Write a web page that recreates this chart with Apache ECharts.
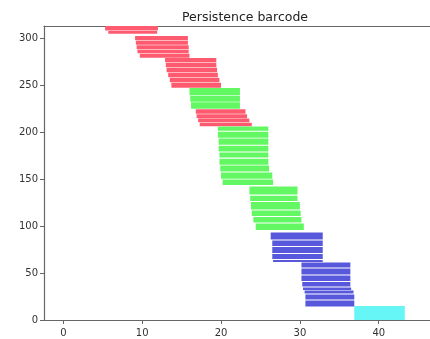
<!DOCTYPE html>
<html>
<head>
<meta charset="utf-8">
<script src="https://cdn.jsdelivr.net/npm/echarts@6/dist/echarts.min.js"></script>
<style>
html,body{margin:0;padding:0;background:#fff;}
#chart{width:430px;height:339px;}
</style>
</head>
<body>
<div id="chart"></div>
<script>
// Each entry is one visible stripe of bars (bar index range low..high)
var stripeLow  = [308.3, 304.8,
  297.9, 293.1, 288.3, 284.0, 279.3,
  274.5, 269.1, 263.8, 258.5, 253.2, 247.3,
  239.4, 232.4, 225.0,
  219.7, 214.9, 210.6, 206.4,
  201.6, 194.1, 186.7, 179.3, 172.9, 165.4, 158.0, 150.5, 143.6,
  133.5, 126.6, 117.6, 110.6, 103.7, 95.7,
  85.6, 78.7, 71.3, 64.9, 61.7,
  55.9, 48.4, 41.5, 35.6, 31.9,
  28.2, 21.8, 14.4,
  0];
var stripeHigh = [313.1, 307.8,
  302.4, 297.3, 292.6, 287.8, 283.5,
  278.8, 273.9, 268.6, 263.3, 258.0, 252.7,
  247.0, 238.8, 231.9,
  224.5, 219.1, 214.4, 210.1,
  205.9, 200.5, 193.1, 185.6, 178.2, 171.8, 164.4, 156.9, 149.5,
  142.0, 132.4, 125.5, 116.5, 109.6, 102.7,
  93.1, 84.6, 77.7, 70.2, 63.8,
  61.2, 54.8, 47.3, 40.4, 34.6,
  31.4, 27.1, 20.7,
  14.9];
var births = [5.3, 5.7,
  9.1, 9.2, 9.3, 9.4, 9.7,
  12.9, 13.0, 13.1, 13.3, 13.5, 13.7,
  16.0, 16.1, 16.2,
  16.8, 16.9, 17.1, 17.3,
  19.6, 19.6, 19.7, 19.7, 19.8, 19.8, 19.9, 20.0, 20.2,
  23.6, 23.7, 23.8, 23.9, 24.1, 24.4,
  26.3, 26.5, 26.5, 26.5, 26.6,
  30.2, 30.2, 30.2, 30.3, 30.4,
  30.6, 30.7, 30.7,
  36.9];
var deaths = [12.0, 11.9,
  15.8, 15.8, 15.9, 15.9, 16.0,
  19.4, 19.4, 19.5, 19.6, 19.8, 20.0,
  22.4, 22.4, 22.4,
  23.1, 23.3, 23.6, 23.9,
  26.0, 26.0, 26.0, 26.0, 26.0, 26.0, 26.1, 26.5, 26.6,
  29.7, 29.7, 30.0, 30.1, 30.2, 30.5,
  32.9, 32.9, 32.9, 32.9, 32.9,
  36.4, 36.4, 36.4, 36.4, 36.5,
  36.8, 36.9, 36.9,
  43.3];
var dims = [0, 0,
  0, 0, 0, 0, 0,
  0, 0, 0, 0, 0, 0,
  1, 1, 1,
  0, 0, 0, 0,
  1, 1, 1, 1, 1, 1, 1, 1, 1,
  1, 1, 1, 1, 1, 1,
  2, 2, 2, 2, 2,
  2, 2, 2, 2, 2,
  2, 2, 2,
  3];
var xTicks = [0, 10, 20, 30, 40];
var yTicks = [0, 50, 100, 150, 200, 250, 300];
var palette = ['#ff5b70', '#63f863', '#5858dc', '#66f6f6'];

var data = [];
for (var i = 0; i < births.length; i++) {
  data.push([births[i], deaths[i], stripeLow[i], stripeHigh[i], dims[i]]);
}

var chart = echarts.init(document.getElementById('chart'), null, {renderer: 'canvas'});
var axisCol = '#666';
var labelStyle = {color: '#333', fontSize: 10, fontFamily: 'DejaVu Sans'};
chart.setOption({
  animation: false,
  backgroundColor: '#fff',
  title: {
    text: 'Persistence barcode',
    left: 240, top: 6, textAlign: 'center',
    textStyle: {fontSize: 12.5, fontWeight: 'normal', color: '#222', fontFamily: 'DejaVu Sans'}
  },
  grid: {left: 44, top: 26, right: 0, bottom: 19},
  xAxis: [{
    type: 'value', min: -2.45, max: 46.5,
    splitLine: {show: false},
    axisLine: {show: true, onZero: false, lineStyle: {color: axisCol, width: 1.2}},
    axisTick: {show: true, length: 4, customValues: xTicks, lineStyle: {color: axisCol}},
    axisLabel: Object.assign({customValues: xTicks, margin: 8, showMinLabel: true, showMaxLabel: true}, labelStyle)
  }, {
    type: 'value', position: 'top', min: -2.45, max: 46.5,
    splitLine: {show: false},
    axisLine: {show: true, onZero: false, lineStyle: {color: axisCol, width: 1.2}},
    axisTick: {show: false}, axisLabel: {show: false}
  }],
  yAxis: {
    type: 'value', min: 0, max: 313,
    splitLine: {show: false},
    axisLine: {show: true, onZero: false, lineStyle: {color: axisCol, width: 1.2}},
    axisTick: {show: true, length: 4, customValues: yTicks, lineStyle: {color: axisCol}},
    axisLabel: Object.assign({customValues: yTicks, margin: 6}, labelStyle)
  },
  series: [{
    type: 'custom',
    clip: true,
    encode: {x: [0, 1], y: [2, 3]},
    data: data,
    renderItem: function (params, api) {
      var p0 = api.coord([api.value(0), api.value(3)]);
      var p1 = api.coord([api.value(1), api.value(2)]);
      var rect = echarts.graphic.clipRectByRect({
        x: p0[0], y: p0[1], width: p1[0] - p0[0], height: p1[1] - p0[1]
      }, {
        x: params.coordSys.x, y: params.coordSys.y,
        width: params.coordSys.width, height: params.coordSys.height
      });
      if (!rect) return null;
      return {
        type: 'rect',
        shape: rect,
        style: {fill: palette[api.value(4)]}
      };
    }
  }]
});
</script>
</body>
</html>
